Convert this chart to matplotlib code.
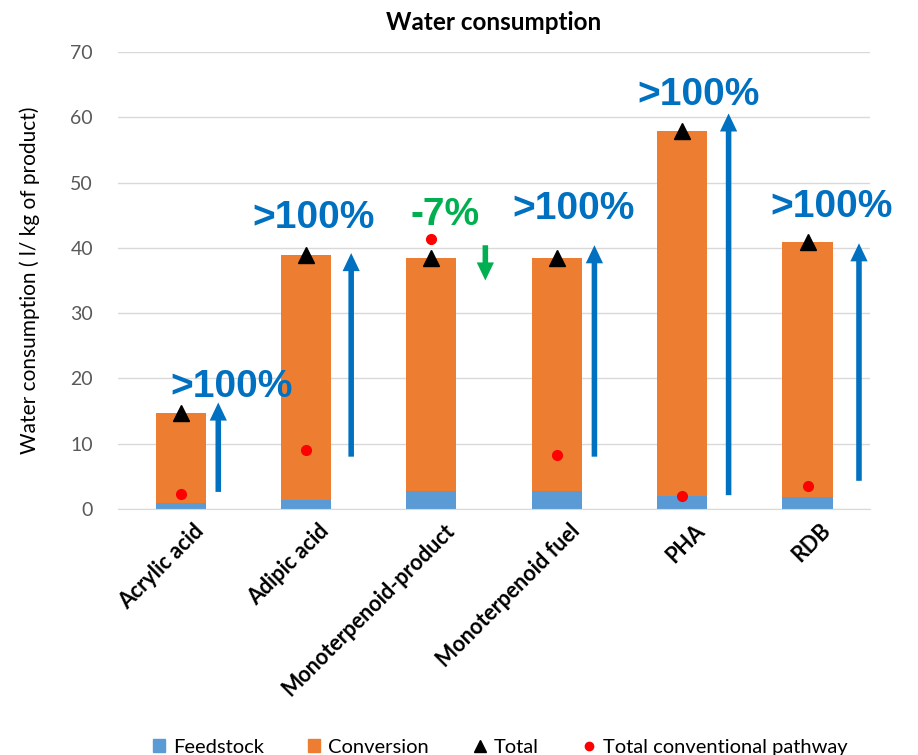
import numpy as np
import matplotlib
matplotlib.use("Agg")
import matplotlib.pyplot as plt
import matplotlib.transforms as mtransforms
from matplotlib.lines import Line2D
from matplotlib.patches import Patch

plt.rcParams["font.family"] = ["Lato", "DejaVu Sans"]

# data (l / kg of product)
categories = ["Acrylic acid", "Adipic acid", "Monoterpenoid-product",
              "Monoterpenoid fuel", "PHA", "RDB"]
feedstock = [0.9, 1.4, 2.8, 2.8, 2.0, 1.8]
conversion = [13.8, 37.5, 35.6, 35.6, 55.9, 39.1]
total = [14.7, 38.9, 38.4, 38.4, 57.9, 40.9]
conventional = [2.3, 9.0, 41.3, 8.3, 2.0, 3.5]

# change annotations: label, arrow start / end (data units)
change_labels = [">100%", ">100%", "-7%", ">100%", ">100%", ">100%"]
arrow_from = [2.6, 8.0, 40.4, 8.0, 2.1, 4.3]
arrow_to = [16.3, 39.2, 35.0, 40.4, 60.6, 40.7]

BLUE, GREEN = "#0070C0", "#00B050"
FEED, CONV = "#5B9BD5", "#ED7D31"
TXT = "#595959"

fig = plt.figure(figsize=(9.18, 7.55), dpi=100)
ax = fig.add_axes([0.1285, 0.326, 0.8195, 0.605])

x = np.arange(len(categories))
w = 0.4
ax.bar(x, feedstock, w, color=FEED, zorder=2)
ax.bar(x, conversion, w, bottom=feedstock, color=CONV, zorder=2)
ax.plot(x, total, "^", color="black", ms=11, zorder=4, clip_on=False)
ax.plot(x, conventional, "o", color="red", ms=7, zorder=4, clip_on=False)

# arrows + labels
arrow_dx = [0.30, 0.36, 0.43, 0.30, 0.37, 0.41]
label_dx = [0.41, 0.06, 0.11, 0.13, 0.13, 0.19]
label_y = [18.7, 44.5, 45.0, 46.0, 63.5, 46.3]
for i in range(len(categories)):
    col = GREEN if arrow_to[i] < arrow_from[i] else BLUE
    ax.annotate("", xy=(x[i] + arrow_dx[i], arrow_to[i]),
                xytext=(x[i] + arrow_dx[i], arrow_from[i]),
                arrowprops=dict(arrowstyle="simple,head_length=0.65,head_width=0.62,tail_width=0.2",
                                mutation_scale=20, lw=0, color=col,
                                shrinkA=0, shrinkB=0), zorder=3)
    ax.text(x[i] + label_dx[i], label_y[i], change_labels[i], color=col,
            fontsize=28, fontweight="bold", family="Liberation Sans",
            ha="center", va="center", zorder=5)

ax.set_xlim(-0.5, len(categories) - 0.5)
ax.set_ylim(0, 70)
ax.set_yticks(range(0, 71, 10))
ax.yaxis.grid(True, color="#D9D9D9", lw=1)
ax.set_axisbelow(True)
for s in ["top", "right", "left"]:
    ax.spines[s].set_visible(False)
ax.spines["bottom"].set_color("#D9D9D9")
ax.tick_params(length=0)
ax.tick_params(axis="y", labelsize=14, labelcolor=TXT, pad=18)
ax.set_xticks(x)
ax.set_xticklabels(categories, rotation=45, ha="right", rotation_mode="anchor",
                   fontsize=15.5, fontweight="bold")
ax.tick_params(axis="x", pad=8)
shift = mtransforms.ScaledTranslation(0.12, 0, fig.dpi_scale_trans)
for lab in ax.get_xticklabels():
    lab.set_transform(lab.get_transform() + shift)
ax.set_ylabel("Water consumption ( l/ kg of product)", fontsize=15, labelpad=22)
ax.set_title("Water consumption", fontsize=17.5, fontweight="bold", pad=16)

handles = [Patch(color=FEED), Patch(color=CONV),
           Line2D([], [], marker="^", ls="", color="black", ms=9),
           Line2D([], [], marker="o", ls="", color="red", ms=6)]
fig.legend(handles, ["Feedstock", "Conversion", "Total", "Total conventional pathway"],
           loc="lower center", bbox_to_anchor=(0.545, -0.025), ncol=4, frameon=False,
           fontsize=14.5, handlelength=0.6, handleheight=0.6, handletextpad=0.4,
           columnspacing=2.2)

fig.savefig("out.png", dpi=100)
